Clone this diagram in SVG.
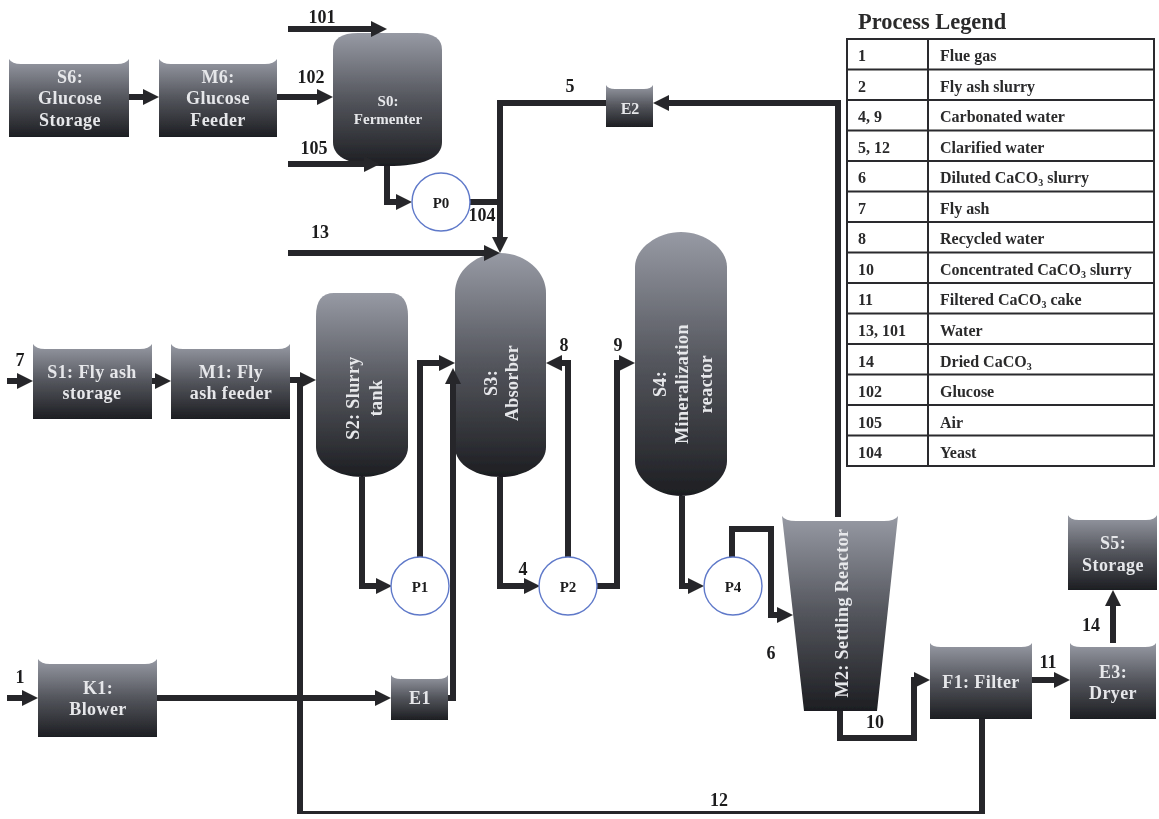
<svg xmlns="http://www.w3.org/2000/svg" width="1159" height="819" viewBox="0 0 1159 819">
<style>
text{font-family:"Liberation Serif","Times New Roman",serif;font-weight:bold}
.v{fill:url(#g)}
.n{fill:#e6e7ea;font-size:18px;text-anchor:middle;letter-spacing:.4px}
.s{fill:#e6e7ea;font-size:15px;text-anchor:middle}
.l{fill:#1c1c1e;font-size:18px;text-anchor:middle}
.p{fill:#1c1c1e;font-size:15px;text-anchor:middle}
.c{fill:#fff;stroke:#5f79c9;stroke-width:1.4}
.w{fill:none;stroke:#26262a;stroke-width:6;stroke-linejoin:miter}
.a{marker-end:url(#h)}
.t{fill:none;stroke:#2c2c2e;stroke-width:2}
.k{fill:#2a2a2c;font-size:16px}
.sub{font-size:10px}
</style>
<defs>
<linearGradient id="g" x1="0" y1="0" x2="0" y2="1">
<stop offset="0" stop-color="#979aa4"/><stop offset=".5" stop-color="#53555c"/><stop offset="1" stop-color="#1d1e22"/>
</linearGradient>
<marker id="h" markerUnits="userSpaceOnUse" markerWidth="18" markerHeight="18" refX="8" refY="9" orient="auto">
<path d="M0,1L16,9L0,17Z" fill="#26262a"/>
</marker>
<filter id="b" x="0" y="0" width="100%" height="100%"><feGaussianBlur stdDeviation="0.5"/></filter>
</defs>
<rect width="1159" height="819" fill="#fff"/>
<g filter="url(#b)">
<g id="S6"><path class="v" d="M9,59V137H129V59Q126,64 117,64H21Q12,64 9,59Z"/><text class="n" x="70" y="83">S6:</text><text class="n" x="70" y="104">Glucose</text><text class="n" x="70" y="126">Storage</text></g>
<g id="M6"><path class="v" d="M159,59V137H277V59Q274,64 265,64H171Q162,64 159,59Z"/><text class="n" x="218" y="83">M6:</text><text class="n" x="218" y="104">Glucose</text><text class="n" x="218" y="126">Feeder</text></g>
<g id="S0"><path class="v" d="M333,50Q333,33 358,33H417Q442,33 442,50V142Q442,166 387,166Q333,166 333,142Z"/><text class="s" x="388" y="106">S0:</text><text class="s" x="388" y="124">Fermenter</text></g>
<g id="E2"><path class="v" d="M606,85V127H653V85Q651,89 644,89H615Q608,89 606,85Z"/><text class="s" x="630" y="114" style="font-size:16px">E2</text></g>
<g id="S1"><path class="v" d="M33,344V419H152V344Q149,349 140,349H45Q36,349 33,344Z"/><text class="n" x="92" y="378">S1: Fly ash</text><text class="n" x="92" y="399">storage</text></g>
<g id="M1"><path class="v" d="M171,344V419H290V344Q287,349 278,349H183Q174,349 171,344Z"/><text class="n" x="231" y="378">M1: Fly</text><text class="n" x="231" y="399">ash feeder</text></g>
<g id="K1"><path class="v" d="M38,659V737H157V659Q154,664 145,664H50Q41,664 38,659Z"/><text class="n" x="98" y="694">K1:</text><text class="n" x="98" y="715">Blower</text></g>
<g id="E1"><path class="v" d="M391,675V720H448V675Q446,679 438,679H401Q393,679 391,675Z"/><text class="n" x="420" y="704">E1</text></g>
<g id="S2"><path class="v" d="M316,316Q316,293 334,293H390Q408,293 408,316V447C408,465 385,477 362,477C339,477 316,465 316,447Z"/><text class="n" transform="translate(359,398) rotate(-90)">S2: Slurry</text><text class="n" transform="translate(382,398) rotate(-90)">tank</text></g>
<g id="S3"><path class="v" d="M455,293C455,270 477,253 500,253C524,253 546,270 546,293V447C546,465 524,477 500,477C477,477 455,465 455,447Z"/><text class="n" transform="translate(497,383) rotate(-90)">S3:</text><text class="n" transform="translate(518,383) rotate(-90)">Absorber</text></g>
<g id="S4"><path class="v" d="M635,267C635,248 658,232 681,232C704,232 727,248 727,267V461C727,480 704,496 681,496C658,496 635,480 635,461Z"/><text class="n" transform="translate(666,384) rotate(-90)">S4:</text><text class="n" transform="translate(688,384) rotate(-90)">Mineralization</text><text class="n" transform="translate(712,384) rotate(-90)">reactor</text></g>
<g id="M2"><path class="v" d="M782,516Q785,521 796,521H884Q895,521 898,516L877,711H804Z"/><text class="n" transform="translate(848,613) rotate(-90)">M2: Settling Reactor</text></g>
<g id="S5"><path class="v" d="M1068,515V590H1157V515Q1155,520 1146,520H1079Q1070,520 1068,515Z"/><text class="n" x="1113" y="549">S5:</text><text class="n" x="1113" y="571">Storage</text></g>
<g id="F1"><path class="v" d="M930,643V719H1032V643Q1030,647 1021,647H941Q932,647 930,643Z"/><text class="n" x="981" y="688">F1: Filter</text></g>
<g id="E3"><path class="v" d="M1070,643V719H1156V643Q1154,647 1145,647H1081Q1072,647 1070,643Z"/><text class="n" x="1113" y="678">E3:</text><text class="n" x="1113" y="699">Dryer</text></g>
<g id="connectors">
<path class="w a" d="M288,29H379"/>
<path class="w a" d="M129,97H151"/>
<path class="w a" d="M277,97H325"/>
<path class="w a" d="M288,164H372"/>
<path class="w a" d="M387,166V202H404"/>
<path class="w" d="M470,202H500"/>
<path class="w a" d="M838,517V103H661"/>
<path class="w" d="M606,103H500"/>
<path class="w a" d="M500,100V245"/>
<path class="w a" d="M288,253H492"/>
<path class="w a" d="M7,381H25"/>
<path class="w a" d="M152,381H163"/>
<path class="w a" d="M290,380H308"/>
<path class="w a" d="M7,698H30"/>
<path class="w a" d="M157,698H383"/>
<path class="w a" d="M448,698H453V376"/>
<path class="w a" d="M362,477V586H384"/>
<path class="w a" d="M420,557V363H447"/>
<path class="w a" d="M500,477V586H532"/>
<path class="w a" d="M568,557V363H554"/>
<path class="w a" d="M597,586H617V363H627"/>
<path class="w a" d="M682,496V586H696"/>
<path class="w a" d="M732,557V529H771V615H785"/>
<path class="w a" d="M840,711V738H914V680H922"/>
<path class="w a" d="M1032,680H1062"/>
<path class="w a" d="M1113,643V598"/>
<path class="w" d="M982,719V814H300V380"/>
</g>
<g id="P0"><circle class="c" cx="441" cy="202" r="29"/><text class="p" x="441" y="208">P0</text></g>
<g id="P1"><circle class="c" cx="420" cy="586" r="29"/><text class="p" x="420" y="592">P1</text></g>
<g id="P2"><circle class="c" cx="568" cy="586" r="29"/><text class="p" x="568" y="592">P2</text></g>
<g id="P4"><circle class="c" cx="733" cy="586" r="29"/><text class="p" x="733" y="592">P4</text></g>
<g id="stream-labels">
<text class="l" x="322" y="23">101</text><text class="l" x="311" y="83">102</text><text class="l" x="314" y="154">105</text><text class="l" x="320" y="238">13</text><text class="l" x="482" y="221">104</text><text class="l" x="570" y="92">5</text><text class="l" x="564" y="351">8</text><text class="l" x="618" y="351">9</text><text class="l" x="523" y="575">4</text><text class="l" x="771" y="659">6</text><text class="l" x="875" y="728">10</text><text class="l" x="1048" y="668">11</text><text class="l" x="1091" y="631">14</text><text class="l" x="719" y="806">12</text><text class="l" x="20" y="366">7</text><text class="l" x="20" y="683">1</text>
</g>
<g id="legend">
<text x="858" y="29" font-size="22.400" fill="#2a2a2c">Process Legend</text>
<path class="t" d="M847,39H1154V466H847ZM928,39V466M847,69.500H1154M847,100H1154M847,130.500H1154M847,161H1154M847,191.500H1154M847,222H1154M847,252.500H1154M847,283H1154M847,313.500H1154M847,344H1154M847,374.500H1154M847,405H1154M847,435.500H1154"/>
<text class="k" x="858" y="61">1</text><text class="k" x="940" y="61">Flue gas</text>
<text class="k" x="858" y="92">2</text><text class="k" x="940" y="92">Fly ash slurry</text>
<text class="k" x="858" y="122">4, 9</text><text class="k" x="940" y="122">Carbonated water</text>
<text class="k" x="858" y="153">5, 12</text><text class="k" x="940" y="153">Clarified water</text>
<text class="k" x="858" y="183">6</text><text class="k" x="940" y="183">Diluted CaCO<tspan class="sub" dy="3">3</tspan><tspan dy="-3"> slurry</tspan></text>
<text class="k" x="858" y="214">7</text><text class="k" x="940" y="214">Fly ash</text>
<text class="k" x="858" y="244">8</text><text class="k" x="940" y="244">Recycled water</text>
<text class="k" x="858" y="275">10</text><text class="k" x="940" y="275">Concentrated CaCO<tspan class="sub" dy="3">3</tspan><tspan dy="-3"> slurry</tspan></text>
<text class="k" x="858" y="305">11</text><text class="k" x="940" y="305">Filtered CaCO<tspan class="sub" dy="3">3</tspan><tspan dy="-3"> cake</tspan></text>
<text class="k" x="858" y="336">13, 101</text><text class="k" x="940" y="336">Water</text>
<text class="k" x="858" y="367">14</text><text class="k" x="940" y="367">Dried CaCO<tspan class="sub" dy="3">3</tspan></text>
<text class="k" x="858" y="397">102</text><text class="k" x="940" y="397">Glucose</text>
<text class="k" x="858" y="428">105</text><text class="k" x="940" y="428">Air</text>
<text class="k" x="858" y="458">104</text><text class="k" x="940" y="458">Yeast</text>
</g>
</g>
</svg>
